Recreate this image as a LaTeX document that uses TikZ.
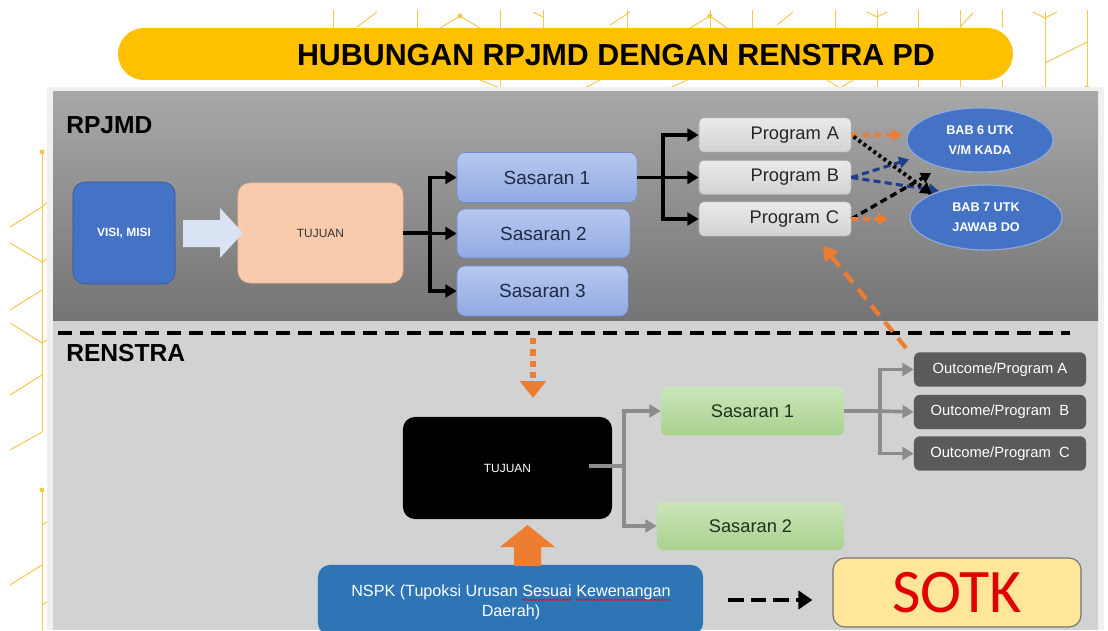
\documentclass[tikz,border=0pt]{standalone}
\usepackage{fontspec}
\setmainfont{Liberation Sans}
\newfontfamily\carlito{Carlito}
\usetikzlibrary{arrows.meta,shapes.geometric,decorations.pathmorphing,positioning}

\definecolor{titleyellow}{HTML}{FFC000}
\definecolor{decoyellow}{HTML}{F2C94C}
\definecolor{rpjmdtop}{HTML}{A8A8A8}
\definecolor{rpjmdbot}{HTML}{747474}
\definecolor{renstrabg}{HTML}{D2D2D2}
\definecolor{visiblue}{HTML}{4472C4}
\definecolor{arrowblue}{HTML}{DAE3F3}
\definecolor{peach}{HTML}{F8CBAD}
\definecolor{peachline}{HTML}{F4B183}
\definecolor{sastop}{HTML}{B6C8EF}
\definecolor{sasbot}{HTML}{92AAE2}
\definecolor{sasline}{HTML}{7088C8}
\definecolor{navytext}{HTML}{1F2A44}
\definecolor{progtop}{HTML}{EAEAEA}
\definecolor{progbot}{HTML}{D2D2D2}
\definecolor{orangedash}{HTML}{ED7D31}
\definecolor{navydash}{HTML}{1F3E8C}
\definecolor{greentop}{HTML}{CBE6BA}
\definecolor{greenbot}{HTML}{A9D18E}
\definecolor{greentext}{HTML}{1D331D}
\definecolor{outgray}{HTML}{5A5A5A}
\definecolor{linegray}{HTML}{8C8C8C}
\definecolor{nspkblue}{HTML}{2E75B6}
\definecolor{sotkfill}{HTML}{FFE699}
\definecolor{sotkred}{HTML}{E00000}

% red wavy underline (spell check mark)
\newsavebox\wavebox
\newlength\wavelen
\newcommand\redwave[1]{\sbox\wavebox{#1}\setlength\wavelen{\wd\wavebox}%
  \rlap{\tikz[overlay, baseline=0pt]{\draw[red, line width=0.5pt, decorate,
    decoration={snake, amplitude=0.5pt, segment length=2.4pt}]
    (0pt,-2.6pt) -- (\wavelen,-2.6pt);}}\usebox\wavebox}

\tikzset{
  deco/.style={decoyellow, line width=0.7pt},
  visibox/.style={rounded corners=0.3cm, fill=visiblue, draw=visiblue!75!black,
    minimum width=2.55cm, minimum height=2.55cm, inner sep=0pt, text=white,
    font=\bfseries\fontsize{8.5}{10}\selectfont},
  tujbox/.style={rounded corners=0.3cm, fill=peach, draw=peachline,
    minimum width=4.125cm, minimum height=2.5cm, inner sep=0pt, text=black!80,
    font=\fontsize{8.5}{10}\selectfont},
  sasbox/.style={rounded corners=0.2cm, top color=sastop, bottom color=sasbot,
    draw=sasline, minimum height=1.25cm, inner sep=0pt, text=navytext,
    font=\fontsize{13.5}{16}\selectfont},
  progbox/.style={rounded corners=0.12cm, top color=progtop, bottom color=progbot,
    draw=progbot!80!black, minimum height=0.86cm, text width=3.2cm, align=right,
    inner xsep=0.3cm, inner ysep=0pt, text=black!85,
    font=\fontsize{13}{15}\selectfont},
  babnode/.style={ellipse, fill=visiblue, draw=visiblue!60!white, line width=0.8pt,
    inner sep=0pt, align=center, text=white,
    font=\bfseries\fontsize{9}{14}\selectfont},
  greenbox/.style={rounded corners=0.12cm, top color=greentop, bottom color=greenbot,
    minimum height=1.2cm, inner sep=0pt, text=greentext,
    font=\fontsize{13}{15}\selectfont},
  outbox/.style={rounded corners=0.15cm, fill=outgray, minimum width=4.3cm,
    minimum height=0.86cm, inner sep=0pt, text=white,
    font=\fontsize{10.5}{12}\selectfont},
  blkline/.style={line width=2.2pt},
  blkarrow/.style={line width=2.2pt, -{Triangle[length=8pt,width=9pt]}},
  grayline/.style={linegray, line width=2.6pt},
  grayarrow/.style={linegray, line width=2.6pt, -{Triangle[length=8pt,width=9pt]}},
  orgdash/.style={orangedash, line width=2.4pt, dash pattern=on 5pt off 3pt,
    -{Triangle[length=7pt,width=8pt]}},
  navydashed/.style={navydash, line width=2.2pt, dash pattern=on 5pt off 3pt,
    -{Triangle[length=7pt,width=8pt]}},
  blkdashed/.style={line width=2.4pt, dash pattern=on 5pt off 3pt,
    -{Triangle[length=7pt,width=8pt]}},
  blkdotted/.style={line width=2.8pt, dash pattern=on 2.2pt off 2.2pt,
    -{Triangle[length=8pt,width=9pt]}},
  seclabel/.style={anchor=west, inner sep=0pt, font=\bfseries\fontsize{17.5}{20}\selectfont}
}

\begin{document}
\begin{tikzpicture}[x=0.025cm,y=-0.025cm]
\useasboundingbox (0,0) rectangle (1108,630);
\fill[white] (0,0) rectangle (1108,630);

% background lattice
\foreach \x in {333,417,500,543,627,710,752,835,877,918,960,1002}
  \draw[deco] (\x,10) -- (\x,28);
\foreach \x in {500,877,918,960,1002}
  \draw[deco] (\x,80) -- (\x,90);
\draw[deco] (357,27) -- (377,12);
\draw[deco] (440,28) -- (460,16) -- (480,28);
\draw[deco] (690,28) -- (710,16) -- (727,28);
\draw[deco] (533,12) -- (543,17);
\draw[deco] (610,25) -- (630,12);
\draw[deco] (777,25) -- (793,12);
\draw[deco] (867,12) -- (877,17) -- (887,12);
\draw[deco] (960,27) -- (973,13);
\draw[deco] (1033,12) -- (1045,18) -- (1057,12);
\draw[deco] (1045,12) -- (1045,90);
\draw[deco] (1045,63) -- (1087,42);
\draw[deco] (1087,10) -- (1087,88);
\draw[deco] (480,80) -- (500,88);
\draw[deco] (585,88) -- (600,80);
\draw[deco] (670,88) -- (687,80);
\draw[deco] (827,80) -- (840,88) -- (853,80);
\fill[decoyellow] (460,16) circle (2.5) (710,16) circle (2.5) (1087,88) circle (2.5);
\draw[deco] (42,152) -- (42,432);
\draw[deco] (42,207) -- (10,227) (42,207) -- (50,200);
\draw[deco] (10,243) -- (42,262) -- (50,257);
\draw[deco] (42,290) -- (10,310) (10,323) -- (42,343) -- (50,338);
\draw[deco] (42,375) -- (10,395) (42,432) -- (10,450);
\draw[deco] (42,490) -- (42,630);
\draw[deco] (42,525) -- (50,520) (42,565) -- (10,585) (42,605) -- (50,600);
\fill[decoyellow] (42,152) circle (2.5) (42,490) circle (2.5);

% title
\fill[titleyellow, rounded corners=0.65cm] (118,28) rectangle (1013,80);
\node[font=\bfseries\fontsize{21.6}{26}\selectfont] (title) at (616,55)
  {HUBUNGAN RPJMD DENGAN RENSTRA PD};

% panels
\fill[white!94!black] (47,87) rectangle (1104,630);
\shade[top color=rpjmdtop, bottom color=rpjmdbot] (53,92) rectangle (1098,321);
\fill[renstrabg] (53,321) rectangle (1098,630);
\draw[line width=2.2pt, dash pattern=on 10pt off 5.5pt] (58,333) -- (1070,333);

\node[seclabel] (lrpjmd) at (66,125) {RPJMD};
\node[seclabel] (lrenstra) at (66,353) {RENSTRA};

% RPJMD
\node[visibox] (visi) at (124,233) {VISI, MISI};
\node[tujbox] (tuj) at (320.5,233) {TUJUAN};
\fill[arrowblue] (183,220) -- (220,220) -- (220,208) -- (243,233)
  -- (220,258) -- (220,247) -- (183,247) -- cycle;

\node[sasbox, minimum width=4.5cm] (sas1) at (547,177.5) {Sasaran 1};
\node[sasbox, minimum width=4.325cm, minimum height=1.225cm] (sas2) at (543.5,233.5) {Sasaran 2};
\node[sasbox, minimum width=4.275cm] (sas3) at (542.5,291) {Sasaran 3};

\coordinate (j1) at (430,233);
\draw[blkline] (tuj.east) -- (j1);
\draw[blkarrow] (j1) |- (sas1.west);
\draw[blkarrow] (j1) |- (sas2.west);
\draw[blkarrow] (j1) |- (sas3.west);

\node[progbox] (pa) at (775,135) {Program A};
\node[progbox] (pb) at (775,177.5) {Program B};
\node[progbox] (pc) at (775,219) {Program C};

\coordinate (j2) at (663,177.5);
\draw[blkline] (sas1.east) -- (j2);
\draw[blkarrow] (j2) |- (pa.west);
\draw[blkarrow] (j2) -- (pb.west);
\draw[blkarrow] (j2) |- (pc.west);

\node[babnode, minimum width=3.65cm, minimum height=1.6cm] (bab6) at (980,140) {BAB 6 UTK\\V/M KADA};
\node[babnode, minimum width=3.8cm, minimum height=1.625cm] (bab7) at (986,217.5) {BAB 7 UTK\\JAWAB DO};

\coordinate (pcend) at (888,219);
\draw[orgdash, shorten >=3pt] (pa.east) -- (pa.east -| bab6.west);
\draw[navydashed, shorten >=6pt] (pb.east) -- (bab6.195);
\draw[navydashed, shorten >=1pt] (pb.east) -- (bab7.150);
\draw[blkdashed, shorten >=8pt] (pc.east) -- (bab6.215);
\draw[blkdotted, shorten <=2pt] (pa.east) -- (bab7.north west);
\draw[orgdash] (pc.east) -- (pcend);

% RENSTRA
\node[rounded corners=0.3cm, fill=black, minimum width=5.225cm, minimum height=2.55cm,
  inner sep=0pt, text=white, font=\fontsize{8.5}{10}\selectfont] (tujr) at (507.5,468) {TUJUAN};

\coordinate (od1) at (533,338);
\coordinate (od2) at (533,398);
\draw[orangedash, line width=4.2pt, dash pattern=on 4.5pt off 3.5pt,
  -{Triangle[length=12pt,width=18pt]}] (od1) -- (od2);

\node[greenbox, minimum width=4.575cm] (gs1) at (752.5,411) {Sasaran 1};
\node[greenbox, minimum width=4.675cm] (gs2) at (750.5,526) {Sasaran 2};

\coordinate (j3) at (624,466);
\draw[grayline, shorten <=-0.575cm] (tujr.east |- j3) -- (j3);
\draw[grayarrow] (j3) |- (gs1.west);
\draw[grayarrow] (j3) |- (gs2.west);

\node[outbox] (oa) at (1000,369.5) {Outcome/Program A};
\node[outbox] (ob) at (1000,412) {Outcome/Program\ \ B};
\node[outbox] (oc) at (1000,453.5) {Outcome/Program\ \ C};

\coordinate (j4) at (880,411);
\draw[grayline] (gs1.east) -- (j4);
\draw[grayarrow] (j4) |- (oa.west);
\draw[grayarrow] (j4) -- (ob.west);
\draw[grayarrow] (j4) |- (oc.west);

\coordinate (od3) at (906,348);
\coordinate (od4) at (823,246);
\draw[orangedash, line width=3pt, dash pattern=on 9pt off 6pt,
  -{Triangle[length=10pt,width=12pt]}] (od3) -- (od4);

\node[rounded corners=0.3cm, fill=nspkblue, minimum width=9.625cm, minimum height=1.75cm,
  inner sep=0pt] (nspk) at (510.5,600) {};
\node[text=white, align=center, font=\fontsize{11.5}{14.2}\selectfont, inner sep=0pt]
  (nspktext) at (511,602) {NSPK (Tupoksi Urusan \redwave{Sesuai} \redwave{Kewenangan}\\Daerah)};
\fill[orangedash] (514,566) -- (514,547) -- (500,547) -- (527.5,525)
  -- (555,547) -- (541,547) -- (541,566) -- cycle;

\node[rounded corners=0.3cm, fill=sotkfill, draw=black!55, line width=0.8pt,
  minimum width=6.2cm, minimum height=1.725cm, inner sep=0pt, text=sotkred,
  font=\carlito\fontsize{44}{50}\selectfont] (sotk) at (957,592.5) {SOTK};
\draw[line width=3.5pt, dash pattern=on 11pt off 5pt, -{Triangle[length=10pt,width=13pt]},
  shorten <=0.625cm, shorten >=0.5cm] (nspk.east |- 0,600) -- (sotk.west |- 0,600);
\end{tikzpicture}
\end{document}
